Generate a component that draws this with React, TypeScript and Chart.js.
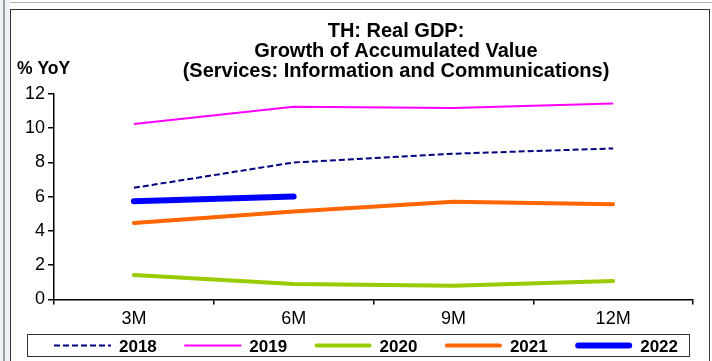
import React, { useEffect, useRef } from "react";
import { Chart, registerables } from "chart.js";
Chart.register(...registerables);

const categories = ["3M", "6M", "9M", "12M"];
const yTicks = [0, 2, 4, 6, 8, 10, 12];
const s2018 = [6.52, 8.0, 8.51, 8.82];
const s2019 = [10.25, 11.26, 11.18, 11.45];
const s2020 = [1.42, 0.9, 0.8, 1.07];
const s2021 = [4.47, 5.13, 5.7, 5.56];
const s2022 = [5.74, 6.01, null, null];
const seriesNames = ["2018", "2019", "2020", "2021", "2022"];
const titleLines = [
  "TH: Real GDP:",
  "Growth of Accumulated Value",
  "(Services: Information and Communications)",
];
const yUnit = "% YoY";

const FAMILY = "'Liberation Sans', Arial, Helvetica, sans-serif";

const decorPlugin = {
  id: "decor",
  afterDraw(chart: any) {
    const ctx = chart.ctx as CanvasRenderingContext2D;
    ctx.save();
    // title
    ctx.fillStyle = "#000";
    ctx.textAlign = "center";
    ctx.textBaseline = "alphabetic";
    ctx.font = `bold 20px ${FAMILY}`;
    const baselines = [36.7, 56.5, 77.3];
    titleLines.forEach((t, i) => ctx.fillText(t, 396, baselines[i]));
    // unit label
    ctx.textAlign = "left";
    ctx.font = `bold 17.5px ${FAMILY}`;
    ctx.fillText(yUnit, 17, 74);
    // legend box
    ctx.strokeStyle = "#333";
    ctx.lineWidth = 1;
    ctx.setLineDash([]);
    ctx.strokeRect(27.5, 334.5, 662, 22);
    const ly = 345.5;
    chart.data.datasets.forEach((ds: any, i: number) => {
      const x0 = 54 + i * 130.3;
      const lw = ds.borderWidth;
      const round = ds.borderCapStyle === "round";
      ctx.beginPath();
      ctx.strokeStyle = ds.borderColor;
      ctx.lineWidth = lw;
      ctx.lineCap = ds.borderCapStyle || "butt";
      ctx.setLineDash(ds.borderDash || []);
      ctx.moveTo(x0 + (round ? lw / 2 : 0), ly);
      ctx.lineTo(x0 + 57 - (round ? lw / 2 : 0), ly);
      ctx.stroke();
      ctx.setLineDash([]);
      ctx.fillStyle = "#000";
      ctx.font = `bold 17px ${FAMILY}`;
      ctx.textAlign = "left";
      ctx.textBaseline = "alphabetic";
      ctx.fillText(ds.label, x0 + 65, 352);
    });
    ctx.restore();
  },
};

export default function App() {
  const ref = useRef<HTMLCanvasElement | null>(null);
  useEffect(() => {
    if (!ref.current) return;
    const chart = new Chart(ref.current, {
      type: "line",
      data: {
        labels: categories,
        datasets: [
          {
            label: seriesNames[0],
            data: s2018,
            borderColor: "#000080",
            borderWidth: 2,
            borderDash: [6, 3],
            borderCapStyle: "butt",
            pointRadius: 0,
            tension: 0,
            fill: false,
          },
          {
            label: seriesNames[1],
            data: s2019,
            borderColor: "#ff00ff",
            borderWidth: 2,
            borderCapStyle: "butt",
            pointRadius: 0,
            tension: 0,
            fill: false,
          },
          {
            label: seriesNames[2],
            data: s2020,
            borderColor: "#99cc00",
            borderWidth: 4,
            borderCapStyle: "round",
            pointRadius: 0,
            tension: 0,
            fill: false,
          },
          {
            label: seriesNames[3],
            data: s2021,
            borderColor: "#ff6600",
            borderWidth: 4,
            borderCapStyle: "round",
            pointRadius: 0,
            tension: 0,
            fill: false,
          },
          {
            label: seriesNames[4],
            data: s2022,
            borderColor: "#0000ff",
            borderWidth: 6,
            borderCapStyle: "round",
            pointRadius: 0,
            tension: 0,
            fill: false,
            spanGaps: false,
          },
        ],
      } as any,
      options: {
        responsive: false,
        animation: false,
        layout: { padding: { left: 22, right: 19, top: 94, bottom: 27 } },
        plugins: {
          legend: { display: false },
          title: { display: false },
          tooltip: { enabled: false },
        },
        scales: {
          x: {
            type: "category",
            offset: true,
            grid: {
              display: true,
              offset: true,
              drawOnChartArea: false,
              drawTicks: true,
              tickLength: 5,
              color: "#000",
              tickColor: "#000",
              lineWidth: 1.5,
            },
            border: { display: true, color: "#000", width: 1.5 },
            ticks: {
              color: "#000",
              font: { family: FAMILY, size: 18 },
              padding: 4,
              maxRotation: 0,
              autoSkip: false,
            },
          },
          y: {
            min: 0,
            max: 12,
            afterBuildTicks: (axis: any) => {
              axis.ticks = yTicks.map((v) => ({ value: v }));
            },
            grid: {
              display: true,
              drawOnChartArea: false,
              drawTicks: true,
              tickLength: 6,
              color: "#000",
              tickColor: "#000",
              lineWidth: 1.5,
            },
            border: { display: true, color: "#000", width: 1.5 },
            ticks: {
              color: "#000",
              font: { family: FAMILY, size: 18 },
              padding: 3,
            },
          },
        },
      } as any,
      plugins: [decorPlugin],
    });
    return () => chart.destroy();
  }, []);

  return (
    <div
      style={{
        position: "fixed",
        left: 0,
        top: 0,
        width: 712,
        height: 361,
        overflow: "hidden",
        background: "#ffffff",
      }}
    >
      <div style={{ position: "absolute", left: 0, top: 0, width: 10, height: 361, background: "#eef1f8" }} />
      <div style={{ position: "absolute", left: 3, top: 0, width: 2, height: 361, background: "#9a9a9a" }} />
      <div style={{ position: "absolute", left: 10, top: 2, width: 702, height: 1, background: "#b5b5b5" }} />
      <div
        style={{
          position: "absolute",
          left: 10,
          top: 9,
          width: 700,
          height: 370,
          boxSizing: "border-box",
          border: "1px solid #333",
          background: "#fff",
        }}
      />
      <canvas
        ref={ref}
        width={712}
        height={361}
        style={{ position: "absolute", left: 0, top: 0, width: 712, height: 361, display: "block" }}
      />
    </div>
  );
}
